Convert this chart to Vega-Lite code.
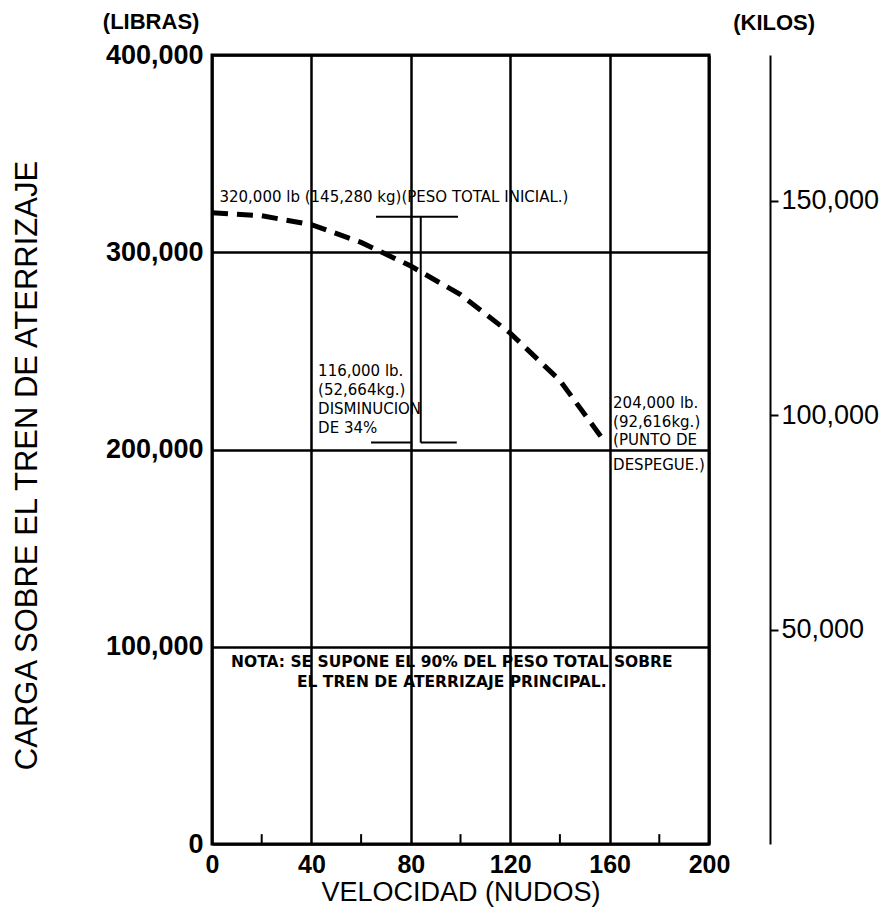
{
  "$schema": "https://vega.github.io/schema/vega-lite/v6.json",
  "autosize": {"type": "none"},
  "width": 497,
  "height": 789,
  "padding": {"left": 212, "top": 55, "right": 186, "bottom": 70},
  "background": "white",
  "config": {
    "view": {"stroke": "black", "strokeWidth": 3},
    "text": {"color": "black"}
  },
  "datasets": {
    "curve": [
      {"x": 0, "y": 320000},
      {"x": 20, "y": 318500},
      {"x": 40, "y": 314000},
      {"x": 60, "y": 305000},
      {"x": 80, "y": 293000},
      {"x": 100, "y": 278500},
      {"x": 120, "y": 259000},
      {"x": 140, "y": 235000},
      {"x": 158, "y": 204000}
    ],
    "hrules": [
      {"x": 66, "x2": 99, "y": 318000},
      {"x": 64, "x2": 80, "y": 203500},
      {"x": 84, "x2": 98.5, "y": 203500}
    ],
    "vrules": [
      {"x": 84, "y": 203500, "y2": 318000},
      {"x": 20, "y": 0, "y2": 5000},
      {"x": 60, "y": 0, "y2": 5000},
      {"x": 100, "y": 0, "y2": 5000},
      {"x": 140, "y": 0, "y2": 5000},
      {"x": 180, "y": 0, "y2": 5000}
    ],
    "notes": [
      {"x": 3, "y": 328000, "t": "320,000 lb (145,280 kg)(PESO TOTAL INICIAL.)"},
      {"x": 42.7, "y": 239600, "t": "116,000 lb."},
      {"x": 42.7, "y": 230000, "t": "(52,664kg.)"},
      {"x": 42.7, "y": 220500, "t": "DISMINUCION"},
      {"x": 42.7, "y": 211000, "t": "DE 34%"},
      {"x": 161.4, "y": 223600, "t": "204,000 lb."},
      {"x": 161.4, "y": 214000, "t": "(92,616kg.)"},
      {"x": 161.4, "y": 204900, "t": "(PUNTO DE"},
      {"x": 161.4, "y": 192100, "t": "DESPEGUE.)"}
    ],
    "nota": [
      {"x": 96.5, "y": 92300, "t": "NOTA: SE SUPONE EL 90% DEL PESO TOTAL SOBRE"},
      {"x": 96.5, "y": 82100, "t": "EL TREN DE ATERRIZAJE PRINCIPAL."}
    ],
    "units": [
      {"x": -24.5, "y": 416700, "t": "(LIBRAS)"},
      {"x": 226.2, "y": 416000, "t": "(KILOS)"}
    ],
    "kilos": [
      {"kg": 50000},
      {"kg": 100000},
      {"kg": 150000}
    ]
  },
  "layer": [
    {
      "encoding": {
        "x": {
          "field": "x",
          "type": "quantitative",
          "scale": {"domain": [0, 200], "nice": false, "zero": false},
          "axis": {
            "orient": "bottom",
            "values": [0, 40, 80, 120, 160, 200],
            "grid": true,
            "gridColor": "black",
            "gridWidth": 2.5,
            "gridOpacity": 1,
            "domain": false,
            "ticks": false,
            "tickSize": 0,
            "labelFont": "Liberation Sans",
            "labelFontWeight": "bold",
            "labelFontSize": 25,
            "labelColor": "black",
            "labelPadding": 8,
            "labelFlush": false,
            "title": "VELOCIDAD (NUDOS)",
            "titleFont": "Liberation Sans",
            "titleFontSize": 27,
            "titleFontWeight": "normal",
            "titleColor": "black",
            "titlePadding": 2
          }
        },
        "y": {
          "field": "y",
          "type": "quantitative",
          "scale": {"domain": [0, 400000], "nice": false, "zero": false},
          "axis": {
            "orient": "left",
            "values": [0, 100000, 200000, 300000, 400000],
            "format": ",d",
            "grid": true,
            "gridColor": "black",
            "gridWidth": 2.5,
            "gridOpacity": 1,
            "domain": false,
            "ticks": false,
            "tickSize": 0,
            "labelFont": "Liberation Sans",
            "labelFontWeight": "bold",
            "labelFontSize": 27,
            "labelColor": "black",
            "labelPadding": 9,
            "labelFlush": false,
            "title": "CARGA SOBRE EL TREN DE ATERRIZAJE",
            "titleFont": "Liberation Sans",
            "titleFontSize": 31,
            "titleFontWeight": "normal",
            "titleColor": "black",
            "titleAngle": -90,
            "titleAlign": "center",
            "titleBaseline": "middle",
            "titleX": -185,
            "titleY": 410
          }
        }
      },
      "layer": [
        {
          "data": {"name": "curve"},
          "mark": {"type": "line", "color": "black", "strokeWidth": 5, "strokeDash": [16, 9]}
        },
        {
          "data": {"name": "hrules"},
          "mark": {"type": "rule", "color": "black", "strokeWidth": 2},
          "encoding": {"x2": {"field": "x2"}}
        },
        {
          "data": {"name": "vrules"},
          "mark": {"type": "rule", "color": "black", "strokeWidth": 2},
          "encoding": {"y2": {"field": "y2"}}
        },
        {
          "data": {"name": "notes"},
          "mark": {"type": "text", "align": "left", "baseline": "middle", "font": "DejaVu Sans", "fontSize": 15, "color": "black"},
          "encoding": {"text": {"field": "t"}}
        },
        {
          "data": {"name": "nota"},
          "mark": {"type": "text", "align": "center", "baseline": "middle", "font": "DejaVu Sans", "fontWeight": "bold", "fontSize": 15.5, "color": "black"},
          "encoding": {"text": {"field": "t"}}
        },
        {
          "data": {"name": "units"},
          "mark": {"type": "text", "align": "center", "baseline": "middle", "font": "Liberation Sans", "fontWeight": "bold", "fontSize": 22, "color": "black"},
          "encoding": {"text": {"field": "t"}}
        }
      ]
    },
    {
      "data": {"name": "kilos"},
      "mark": {"type": "point", "opacity": 0},
      "encoding": {
        "y": {
          "field": "kg",
          "type": "quantitative",
          "scale": {"domain": [0, 184000], "nice": false, "zero": false},
          "axis": {
            "orient": "right",
            "offset": 61,
            "values": [50000, 100000, 150000],
            "format": ",d",
            "grid": false,
            "domain": true,
            "domainColor": "black",
            "domainWidth": 2,
            "ticks": true,
            "tickColor": "black",
            "tickWidth": 2,
            "tickSize": 8,
            "labelFont": "Liberation Sans",
            "labelFontSize": 27,
            "labelColor": "black",
            "labelPadding": 3,
            "labelFlush": false,
            "title": null
          }
        }
      }
    }
  ],
  "resolve": {"scale": {"y": "independent"}, "axis": {"y": "independent"}}
}
